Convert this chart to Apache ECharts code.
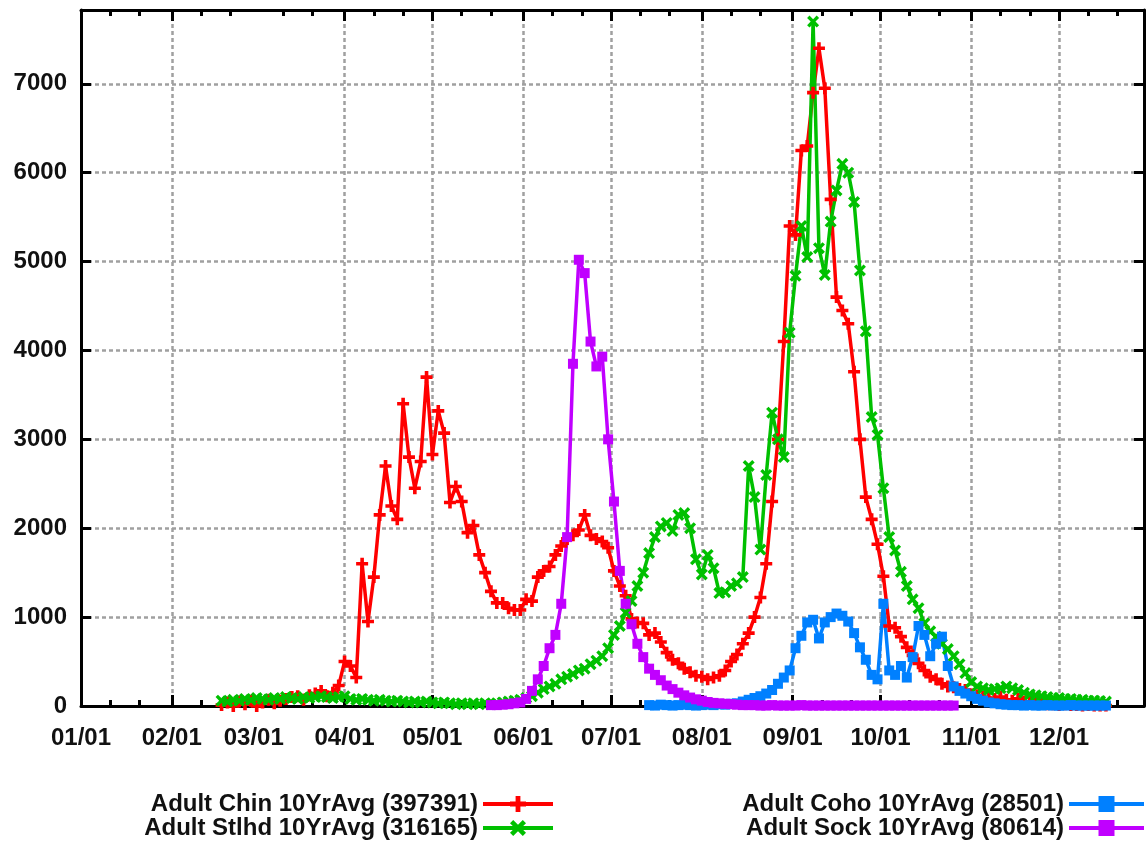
<!DOCTYPE html>
<html><head><meta charset="utf-8">
<script src="https://cdn.jsdelivr.net/npm/echarts@6/dist/echarts.min.js"></script>
<style>html,body{margin:0;padding:0;background:#fff}#c{width:1146px;height:844px}</style>
</head><body><div id="c"></div>
<script>
// ---- axis / tick labels ----
const tickLabels = ['01/01','02/01','03/01','04/01','05/01','06/01','07/01','08/01','09/01','10/01','11/01','12/01'];
const noGridLabels = ['03/01'];
const monthLengths = [31,28,31,30,31,30,31,31,30,31,30,31];
const lastDayIndex = 363;
const yMax = 7830;
const yStep = 1000;

// ---- series names ----
const nameChin = 'Adult Chin 10YrAvg (397391)';
const nameStlhd = 'Adult Stlhd 10YrAvg (316165)';
const nameCoho = 'Adult Coho 10YrAvg (28501)';
const nameSock = 'Adult Sock 10YrAvg (80614)';

// ---- data: value every 2nd day starting at given day-of-year (0 = 01/01) ----
const sampleStep = 2;
const chinStart = 48;
const chinValues = [10,40,0,50,20,60,0,40,70,30,60,80,100,110,70,120,140,170,110,150,
  230,500,450,320,1600,950,1450,2150,2700,2250,2100,3400,2800,2450,2750,3700,2830,3320,3070,2290,
  2470,2300,1950,2030,1700,1500,1290,1160,1160,1100,1080,1080,1200,1180,1450,1520,1570,1700,1800,1880,
  1920,1980,2150,1920,1880,1850,1780,1520,1350,1240,980,940,930,800,820,720,600,520,480,420,
  380,340,330,300,320,340,400,500,580,700,820,1000,1220,1600,2300,3000,4100,5400,5300,6250,
  6300,6900,7400,6950,5700,4600,4450,4300,3760,3000,2350,2100,1820,1460,900,880,780,660,570,480,
  400,330,300,250,220,210,190,180,130,120,100,90,80,100,70,60,80,50,40,60,
  30,20,20,10,20,10,10,5,10,5,5,5];
const stlhdStart = 48;
const stlhdValues = [60,50,70,60,80,70,90,80,70,90,80,100,90,80,100,90,100,110,100,90,
  100,110,80,70,80,70,60,70,60,50,60,50,40,50,40,50,40,30,40,30,
  20,30,20,30,20,30,20,30,40,50,60,70,90,110,150,190,220,250,300,330,
  360,400,420,470,510,560,650,800,900,1050,1180,1350,1500,1720,1900,2020,2060,1970,2150,2170,
  2000,1650,1480,1700,1550,1270,1280,1350,1380,1450,2700,2350,1760,2600,3300,3000,2800,4200,4840,5400,
  5050,7700,5150,4850,5450,5800,6100,6000,5670,4900,4215,3250,3050,2450,1900,1750,1510,1350,1200,1100,
  930,840,780,700,640,560,470,370,270,220,200,180,190,200,220,200,180,150,130,120,
  110,100,90,90,80,80,70,70,60,60,55,50];
const cohoStart = 194;
const cohoValues = [10,5,15,10,5,10,15,10,5,10,15,10,20,15,25,30,50,70,90,110,
  140,180,250,320,400,650,790,940,970,760,940,1000,1040,1015,950,820,660,520,350,300,
  1150,400,350,450,320,550,900,800,560,700,780,450,220,170,140,110,80,60,40,30,
  20,15,10,10,5,10,5,5,10,5,5,5,10,5,5,5,5,5,5];
const sockStart = 140;
const sockValues = [10,10,15,20,30,40,80,170,300,450,650,800,1150,1900,3850,5020,4870,4100,3820,3930,
  3000,2300,1520,1150,920,700,550,420,350,290,230,190,150,120,95,75,60,45,35,30,
  25,20,15,10,10,10,5,5,10,5,5,5,5,10,5,5,5,5,5,5,
  5,5,5,5,5,5,5,5,5,5,5,5,5,5,5,5,5,5,5,5];

// ---- build category axis of days ----
function pad(n){ return (n < 10 ? '0' : '') + n; }
const dayNames = [];
for (let m = 0; m < 12; m++) for (let d = 1; d <= monthLengths[m]; d++) dayNames.push(pad(m + 1) + '/' + pad(d));
const days = dayNames.slice(0, lastDayIndex + 1);
function toPairs(start, vals){ return vals.map((v, i) => [start + i * sampleStep, v]); }
const isMajor = (i, v) => tickLabels.indexOf(v) >= 0;
const isGridMajor = (i, v) => tickLabels.indexOf(v) >= 0 && noGridLabels.indexOf(v) < 0;
const isMinor = (i, v) => /\/(11|21)$/.test(v);

const FONT = 'Liberation Sans';
const plusPath = 'path://M3.5,0H6.5V3.5H10V6.5H6.5V10H3.5V6.5H0V3.5H3.5Z';
const crossPath = 'path://M2,0L5,3L8,0L10,2L7,5L10,8L8,10L5,7L2,10L0,8L3,5L0,2Z';

function mkSeries(name, color, symbol, size, data){
  return { name, type: 'line', data, xAxisIndex: 0, yAxisIndex: 0,
    symbol, symbolSize: size, showSymbol: true, showAllSymbol: true,
    lineStyle: { color, width: 3.5 }, itemStyle: { color },
    emphasis: { disabled: true }, animation: false, clip: true };
}

const frame = { show: true, onZero: false, lineStyle: { color: '#000', width: 3 } };
const xBase = { type: 'category', data: days, boundaryGap: false, gridIndex: 0 };
const legendText = { fontSize: 24, fontWeight: 'bold', fontFamily: FONT, color: '#111', lineHeight: 24 };
const axisFont = { fontSize: 24, fontWeight: 'bold', fontFamily: FONT, color: '#111' };
const legendBase = { orient: 'vertical', align: 'right', top: 792, padding: 0, itemGap: 0,
  itemHeight: 20, selectedMode: false, textStyle: legendText, lineStyle: { width: 4 } };

const option = {
  backgroundColor: '#fff',
  animation: false,
  grid: { left: 81, right: 2, top: 10, bottom: 138, containLabel: false },
  legend: [
    Object.assign({ data: [nameChin, nameStlhd], right: 591, itemWidth: 70 }, legendBase),
    Object.assign({ data: [nameCoho, nameSock], right: 0, itemWidth: 75 }, legendBase)
  ],
  xAxis: [
    Object.assign({}, xBase, { position: 'bottom', axisLine: frame,
      axisTick: { show: true, inside: true, length: 11, interval: isGridMajor, lineStyle: { color: '#000', width: 3 } },
      axisLabel: Object.assign({ show: true, interval: isMajor, margin: 20 }, axisFont),
      splitLine: { show: true, interval: isGridMajor, lineStyle: { color: '#a0a0a0', width: 2.5, type: [4, 3] } } }),
    Object.assign({}, xBase, { position: 'bottom', axisLine: { show: false, onZero: false },
      axisTick: { show: true, inside: true, length: 6, interval: isMinor, lineStyle: { color: '#000', width: 3 } },
      axisLabel: { show: false }, splitLine: { show: false } }),
    Object.assign({}, xBase, { position: 'top', axisLine: frame,
      axisTick: { show: true, inside: true, length: 11, interval: isGridMajor, lineStyle: { color: '#000', width: 3 } },
      axisLabel: { show: false }, splitLine: { show: false } }),
    Object.assign({}, xBase, { position: 'top', axisLine: { show: false, onZero: false },
      axisTick: { show: true, inside: true, length: 6, interval: isMinor, lineStyle: { color: '#000', width: 3 } },
      axisLabel: { show: false }, splitLine: { show: false } })
  ],
  yAxis: [
    { type: 'value', position: 'left', min: 0, max: yMax, interval: yStep, axisLine: frame,
      axisTick: { show: true, inside: true, length: 10, lineStyle: { color: '#000', width: 3 } },
      axisLabel: Object.assign({ margin: 14, formatter: v => (v % yStep === 0 ? String(v) : '') }, axisFont),
      splitLine: { show: true, lineStyle: { color: '#a0a0a0', width: 2.5, type: [4, 3] } } },
    { type: 'value', position: 'right', min: 0, max: yMax, interval: yStep, axisLine: frame,
      axisTick: { show: true, inside: true, length: 10, lineStyle: { color: '#000', width: 3 } },
      axisLabel: { show: false }, splitLine: { show: false } }
  ],
  series: [
    mkSeries(nameChin, '#ff0000', plusPath, 12, toPairs(chinStart, chinValues)),
    mkSeries(nameStlhd, '#00c000', crossPath, 12, toPairs(stlhdStart, stlhdValues)),
    mkSeries(nameCoho, '#0080ff', 'rect', 10, toPairs(cohoStart, cohoValues)),
    mkSeries(nameSock, '#c000ff', 'rect', 10, toPairs(sockStart, sockValues))
  ]
};
const chart = echarts.init(document.getElementById('c'), null, { renderer: 'canvas' });
chart.setOption(option);
</script>
</body></html>
